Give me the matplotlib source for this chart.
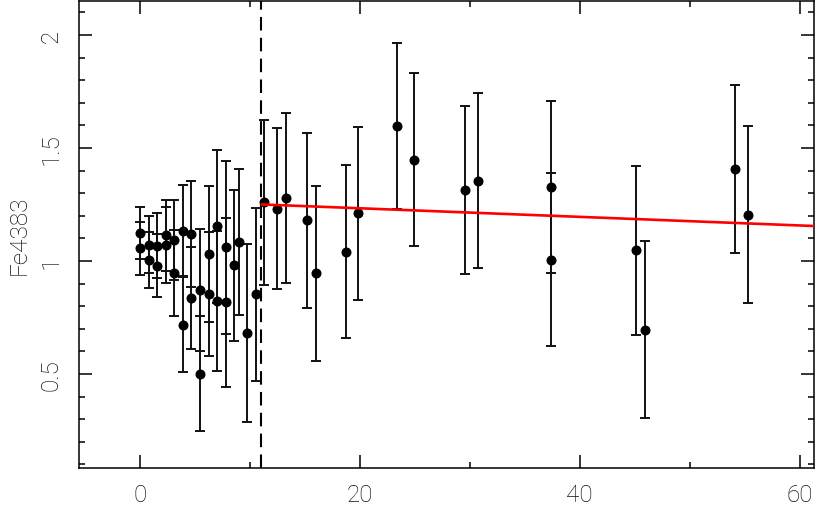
import matplotlib
matplotlib.use("Agg")
import matplotlib.pyplot as plt
import numpy as np
from matplotlib.ticker import MultipleLocator

plt.rcParams['font.family'] = ['Roboto', 'DejaVu Sans']

# Data
radius = [0, 0, 0.82, 0.82, 1.57, 1.57, 2.33, 2.33, 3.09, 3.09, 3.88, 3.88,
          4.67, 4.67, 5.45, 5.45, 6.24, 6.24, 7.03, 7.03, 7.79, 7.79,
          8.58, 8.97, 9.75, 10.52, 11.27, 12.45, 13.24, 15.18, 15.97,
          18.7, 19.85, 23.35, 24.9, 29.6, 30.76, 37.36, 37.36,
          45.15, 45.94, 54.09, 55.27]
fe4383 = [1.124, 1.056, 1.072, 1.003, 1.068, 0.979, 1.114, 1.070, 1.093, 0.946,
          1.134, 0.717, 1.120, 0.836, 0.873, 0.502, 1.030, 0.855, 1.153, 0.822,
          1.061, 0.817, 0.982, 1.083, 0.681, 0.852, 1.260, 1.232, 1.279, 1.180,
          0.946, 1.041, 1.210, 1.596, 1.448, 1.313, 1.355, 1.328, 1.006,
          1.047, 0.695, 1.407, 1.205]
fe4383_err = [0.115, 0.118, 0.125, 0.124, 0.145, 0.140, 0.157, 0.168, 0.178, 0.190,
              0.200, 0.210, 0.234, 0.225, 0.270, 0.253, 0.300, 0.275, 0.338, 0.310,
              0.383, 0.375, 0.334, 0.322, 0.395, 0.384, 0.365, 0.356, 0.375, 0.387,
              0.387, 0.382, 0.383, 0.368, 0.384, 0.372, 0.386, 0.381, 0.383,
              0.374, 0.392, 0.370, 0.390]

boundary_x = 10.97
fit_intercept = 1.271
fit_slope = -0.0019
fit_start = 11.1
fit_end = 62.0

xticks = [0, 20, 40, 60]
yticks = [0.5, 1.0, 1.5, 2.0]
ytick_labels = ["0.5", "1", "1.5", "2"]

fig = plt.figure(figsize=(8.17, 5.06), dpi=100)
ax = fig.add_axes([79/817, 1 - 469/506, (814 - 79)/817, (469 - 2)/506])

ax.errorbar(radius, fe4383, yerr=fe4383_err, fmt='o', color='black', ms=6.2,
            ecolor='#111111', elinewidth=1.4, capsize=3.8, capthick=1.4, zorder=3)

fx = np.array([fit_start, fit_end])
ax.plot(fx, fit_intercept + fit_slope * fx, color='#ff0000', lw=1.9, zorder=4)

ax.axvline(boundary_x, color='black', lw=1.5, linestyle=(0, (6.5, 3.5)), zorder=2)

ax.set_xlim(-5.55, 61.3)
ax.set_ylim(0.084, 2.150)

ax.set_xticks(xticks)
ax.xaxis.set_minor_locator(MultipleLocator(10))
ax.set_yticks(yticks)
ax.set_yticklabels(ytick_labels, rotation=90, va='center')
ax.yaxis.set_minor_locator(MultipleLocator(0.1))

ax.tick_params(which='both', direction='in', top=True, right=True, width=1.1,
               colors='black', labelsize=17.5)
ax.tick_params(which='major', length=9.5)
ax.tick_params(axis='x', which='major', pad=11)
ax.tick_params(axis='y', which='major', pad=12)
ax.tick_params(which='minor', length=4.5)
for lab in ax.get_xticklabels() + ax.get_yticklabels():
    lab.set_color('#111111')
    lab.set_fontweight('light')
for s in ax.spines.values():
    s.set_linewidth(1.1)

ax.set_ylabel('Fe4383', fontsize=17.5, color='#111111', fontweight='light', labelpad=6)

fig.savefig('out.png', dpi=100)
